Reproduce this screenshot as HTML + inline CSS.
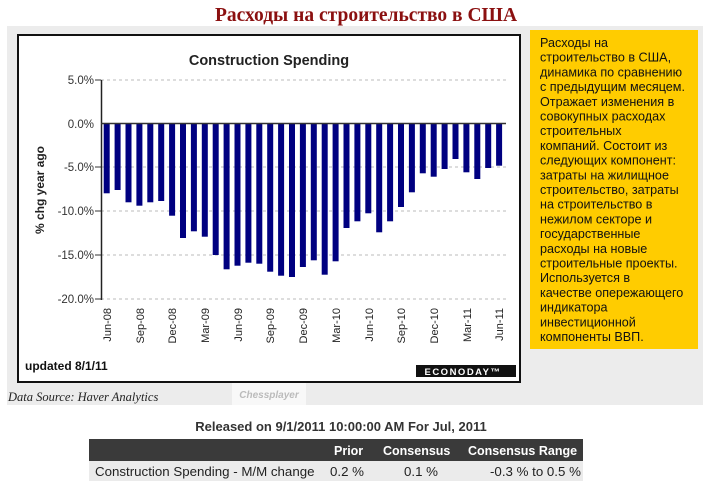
<!DOCTYPE html>
<html><head><meta charset="utf-8"><style>
html,body{margin:0;padding:0;background:#fff;width:709px;height:486px;overflow:hidden}
</style></head><body>
<svg width="709" height="486" viewBox="0 0 709 486" xmlns="http://www.w3.org/2000/svg" font-family="Liberation Sans, Arial, sans-serif">
<text x="366" y="21" text-anchor="middle" font-family="Liberation Serif, Noto Serif CJK SC, serif" font-weight="bold" font-size="19.5" fill="#8b1010">Расходы на строительство в США</text>
<rect x="7" y="26" width="696" height="379" fill="#ececec"/>
<rect x="18" y="35" width="502" height="347" fill="#fff" stroke="#111" stroke-width="2"/>
<text x="269" y="65" text-anchor="middle" font-weight="bold" font-size="14.5" fill="#222">Construction Spending</text>
<g stroke="#bbb" stroke-dasharray="3,3" stroke-width="1">
<line x1="101" y1="80" x2="506" y2="80"/>
<line x1="101" y1="167" x2="506" y2="167"/>
<line x1="101" y1="211" x2="506" y2="211"/>
<line x1="101" y1="255" x2="506" y2="255"/>
<line x1="101" y1="299" x2="506" y2="299"/>
</g>
<g font-size="11.5" fill="#333" text-anchor="end">
<text x="94" y="84">5.0%</text>
<text x="94" y="128">0.0%</text>
<text x="94" y="171">-5.0%</text>
<text x="94" y="215">-10.0%</text>
<text x="94" y="259">-15.0%</text>
<text x="94" y="303">-20.0%</text>
</g>
<g stroke="#333"><line x1="95" y1="80" x2="101" y2="80"/><line x1="95" y1="167" x2="101" y2="167"/><line x1="95" y1="211" x2="101" y2="211"/><line x1="95" y1="255" x2="101" y2="255"/><line x1="95" y1="299" x2="101" y2="299"/></g>
<line x1="101.5" y1="80" x2="101.5" y2="300" stroke="#222" stroke-width="1.5"/>
<text transform="translate(44,190) rotate(-90)" text-anchor="middle" font-weight="bold" font-size="12" fill="#222">% chg year ago</text>
<g fill="#000080">
<rect x="103.7" y="123.5" width="6" height="69.8"/>
<rect x="114.6" y="123.5" width="6" height="66.5"/>
<rect x="125.5" y="123.5" width="6" height="78.8"/>
<rect x="136.4" y="123.5" width="6" height="82.2"/>
<rect x="147.3" y="123.5" width="6" height="78.8"/>
<rect x="158.2" y="123.5" width="6" height="77.5"/>
<rect x="169.1" y="123.5" width="6" height="92.2"/>
<rect x="180" y="123.5" width="6" height="114.5"/>
<rect x="190.9" y="123.5" width="6" height="107.8"/>
<rect x="201.8" y="123.5" width="6" height="113.2"/>
<rect x="212.7" y="123.5" width="6" height="131.5"/>
<rect x="223.6" y="123.5" width="6" height="145.8"/>
<rect x="234.5" y="123.5" width="6" height="142.2"/>
<rect x="245.4" y="123.5" width="6" height="139.2"/>
<rect x="256.3" y="123.5" width="6" height="140.2"/>
<rect x="267.2" y="123.5" width="6" height="148.2"/>
<rect x="278.1" y="123.5" width="6" height="152.2"/>
<rect x="289" y="123.5" width="6" height="153.5"/>
<rect x="299.9" y="123.5" width="6" height="143.5"/>
<rect x="310.8" y="123.5" width="6" height="136.8"/>
<rect x="321.7" y="123.5" width="6" height="151.2"/>
<rect x="332.6" y="123.5" width="6" height="137.8"/>
<rect x="343.5" y="123.5" width="6" height="104.5"/>
<rect x="354.4" y="123.5" width="6" height="97.8"/>
<rect x="365.3" y="123.5" width="6" height="89.8"/>
<rect x="376.2" y="123.5" width="6" height="108.8"/>
<rect x="387.1" y="123.5" width="6" height="97.8"/>
<rect x="398" y="123.5" width="6" height="83.5"/>
<rect x="408.9" y="123.5" width="6" height="68.8"/>
<rect x="419.8" y="123.5" width="6" height="49.8"/>
<rect x="430.7" y="123.5" width="6" height="53.2"/>
<rect x="441.6" y="123.5" width="6" height="45.5"/>
<rect x="452.5" y="123.5" width="6" height="35.5"/>
<rect x="463.4" y="123.5" width="6" height="48.8"/>
<rect x="474.3" y="123.5" width="6" height="55.5"/>
<rect x="485.2" y="123.5" width="6" height="44.5"/>
<rect x="496.1" y="123.5" width="6" height="42.2"/>
</g>
<line x1="101" y1="123.5" x2="506" y2="123.5" stroke="#333" stroke-width="1.5"/>
<g font-size="11" fill="#222" text-anchor="end">
<text transform="translate(111,308) rotate(-90)">Jun-08</text>
<text transform="translate(144,308) rotate(-90)">Sep-08</text>
<text transform="translate(176,308) rotate(-90)">Dec-08</text>
<text transform="translate(209,308) rotate(-90)">Mar-09</text>
<text transform="translate(242,308) rotate(-90)">Jun-09</text>
<text transform="translate(274,308) rotate(-90)">Sep-09</text>
<text transform="translate(307,308) rotate(-90)">Dec-09</text>
<text transform="translate(340,308) rotate(-90)">Mar-10</text>
<text transform="translate(373,308) rotate(-90)">Jun-10</text>
<text transform="translate(405,308) rotate(-90)">Sep-10</text>
<text transform="translate(438,308) rotate(-90)">Dec-10</text>
<text transform="translate(471,308) rotate(-90)">Mar-11</text>
<text transform="translate(503,308) rotate(-90)">Jun-11</text>
</g>
<text x="25" y="370" font-weight="bold" font-size="12" fill="#111">updated 8/1/11</text>
<rect x="416" y="365" width="100" height="12" fill="#111"/>
<text x="463" y="375" text-anchor="middle" font-weight="bold" font-size="9.5" fill="#fff" letter-spacing="1.5">ECONODAY™</text>
<text x="8" y="401" font-family="Liberation Serif, serif" font-style="italic" font-size="12.5" fill="#222">Data Source: Haver Analytics</text>
<rect x="232" y="383" width="74" height="22" fill="#f8f8f8"/>
<text x="269" y="398" text-anchor="middle" font-style="italic" font-weight="bold" font-size="10" fill="#bbb">Chessplayer</text>
<rect x="530" y="30" width="168" height="319" fill="#ffcc00"/>
<g font-size="12.6" fill="#111" font-family="Liberation Sans, Noto Sans CJK SC, sans-serif">
<text x="540" y="47">Расходы на</text>
<text x="540" y="61.7">строительство в США,</text>
<text x="540" y="76.4">динамика по сравнению</text>
<text x="540" y="91.1">с предыдущим месяцем.</text>
<text x="540" y="105.8">Отражает изменения в</text>
<text x="540" y="120.5">совокупных расходах</text>
<text x="540" y="135.2">строительных</text>
<text x="540" y="149.9">компаний. Состоит из</text>
<text x="540" y="164.6">следующих компонент:</text>
<text x="540" y="179.3">затраты на жилищное</text>
<text x="540" y="194">строительство, затраты</text>
<text x="540" y="208.7">на строительство в</text>
<text x="540" y="223.4">нежилом секторе и</text>
<text x="540" y="238.1">государственные</text>
<text x="540" y="252.8">расходы на новые</text>
<text x="540" y="267.5">строительные проекты.</text>
<text x="540" y="282.2">Используется в</text>
<text x="540" y="296.9">качестве опережающего</text>
<text x="540" y="311.6">индикатора</text>
<text x="540" y="326.3">инвестиционной</text>
<text x="540" y="341">компоненты ВВП.</text>
</g>
<text x="341" y="431" text-anchor="middle" font-weight="bold" font-size="13" fill="#333">Released on 9/1/2011 10:00:00 AM For Jul, 2011</text>
<rect x="89" y="439" width="494" height="22" fill="#3a3a3a"/>
<rect x="89" y="461" width="494" height="20" fill="#ebebeb"/>
<g font-weight="bold" font-size="12.5" fill="#fff">
<text x="334" y="455">Prior</text>
<text x="383" y="455">Consensus</text>
<text x="468" y="455">Consensus Range</text>
</g>
<g font-size="13.3" fill="#222">
<text x="95" y="476">Construction Spending - M/M change</text>
<text x="330" y="476">0.2 %</text>
<text x="404" y="476">0.1 %</text>
<text x="490" y="476">-0.3 % to 0.5 %</text>
</g>
</svg>
</body></html>
